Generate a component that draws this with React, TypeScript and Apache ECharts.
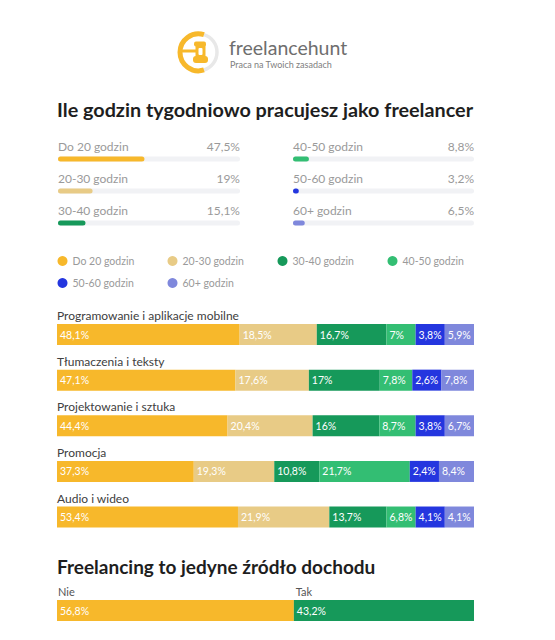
import React, { useEffect, useRef } from "react";
import * as echarts from "echarts";

const hourBands = ["Do 20 godzin", "20-30 godzin", "30-40 godzin", "40-50 godzin", "50-60 godzin", "60+ godzin"];
const overallShares = [47.5, 19, 15.1, 8.8, 3.2, 6.5];
const bandColors = ["#F7B82B", "#E8CB86", "#16995A", "#33BE73", "#2436DF", "#7F88DC"];

const fields = ["Programowanie i aplikacje mobilne", "Tłumaczenia i teksty", "Projektowanie i sztuka", "Promocja", "Audio i wideo"];
const upTo20 = [48.1, 47.1, 44.4, 37.3, 53.4];
const h20to30 = [18.5, 17.6, 20.4, 19.3, 21.9];
const h30to40 = [16.7, 17, 16, 10.8, 13.7];
const h40to50 = [7, 7.8, 8.7, 21.7, 6.8];
const h50to60 = [3.8, 2.6, 3.8, 2.4, 4.1];
const h60plus = [5.9, 7.8, 6.7, 8.4, 4.1];

const incomeLabels = ["Nie", "Tak"];
const incomeShares = [56.8, 43.2];
const incomeColors = ["#F7B82B", "#16995A"];

const title1 = "Ile godzin tygodniowo pracujesz jako freelancer";
const title2 = "Freelancing to jedyne źródło dochodu";

const FONT = "Lato, 'Open Sans', sans-serif";
const fmt = (v: number) => String(v).replace(".", ",") + "%";

export default function App() {
  const ref = useRef<HTMLDivElement>(null);
  useEffect(() => {
    const chart = echarts.init(ref.current!, null, { renderer: "svg" });

    // layout
    const progCols = [{ x: 58, w: 182 }, { x: 293, w: 181 }];
    const progTop = 143, progPitch = 32;
    const stackLeft = 57, stackWidth = 417, stackTop = 311.7, rowPitch = 45.625;
    const incomeTop = 600, incomeH = 21;
    const MIN_SHOWN = 7;

    const fieldSeries = [upTo20, h20to30, h30to40, h40to50, h50to60, h60plus];
    // displayed widths: small segments get a minimum width, first segment takes the rest (as in the original design)
    const shown = fieldSeries.map(() => [] as number[]);
    fields.forEach((_, r) => {
      let rest = 100;
      for (let j = 1; j < fieldSeries.length; j++) {
        const w = Math.max(fieldSeries[j][r], MIN_SHOWN);
        shown[j][r] = w;
        rest -= w;
      }
      shown[0][r] = rest;
    });

    const graphics: any[] = [];
    // logo
    const lcx = 198.5, lcy = 52.3;
    graphics.push(
      { type: "arc", shape: { cx: lcx, cy: lcy, r: 18.5, startAngle: -Math.PI / 2 + 0.3, endAngle: Math.PI / 2 - 0.3, clockwise: true }, style: { stroke: "#E8E8E8", lineWidth: 3.5, fill: null } },
      { type: "arc", shape: { cx: lcx, cy: lcy, r: 18.5, startAngle: Math.PI / 2 - 0.3, endAngle: Math.PI * 1.5 + 0.3, clockwise: true }, style: { stroke: "#F7B82B", lineWidth: 5, fill: null } },
      { type: "line", shape: { x1: 179, y1: 51, x2: 196, y2: 51 }, style: { stroke: "#F7B82B", lineWidth: 3 } },
      { type: "rect", shape: { x: 194, y: 41.5, width: 12, height: 5, r: 2 }, style: { fill: "#F7B82B" } },
      { type: "rect", shape: { x: 195.5, y: 45, width: 10, height: 12 }, style: { fill: "#F7B82B" } },
      { type: "rect", shape: { x: 198.5, y: 48, width: 4, height: 7, r: 1 }, style: { fill: "#ffffff" } },
      { type: "rect", shape: { x: 193, y: 56, width: 15, height: 7, r: 3 }, style: { fill: "#F7B82B" } },
      { type: "text", x: 229, y: 47, style: { text: "freelancehunt", font: `400 19.5px ${FONT}`, fill: "#6E6E6E", verticalAlign: "middle", align: "left" } },
      { type: "text", x: 230, y: 64.5, style: { text: "Praca na Twoich zasadach", font: `400 9px ${FONT}`, fill: "#808080", verticalAlign: "middle", align: "left" } }
    );
    // titles
    graphics.push(
      { type: "text", x: 57, y: 109, style: { text: title1, font: `700 19.8px ${FONT}`, fill: "#1E1E1E", verticalAlign: "middle", align: "left" } },
      { type: "text", x: 57, y: 566, style: { text: title2, font: `700 19px ${FONT}`, fill: "#1E1E1E", verticalAlign: "middle", align: "left" } }
    );
    // progress labels
    hourBands.forEach((name, i) => {
      const c = progCols[Math.floor(i / 3)];
      const y = progTop + progPitch * (i % 3) + progPitch / 2 - 13;
      graphics.push(
        { type: "text", x: c.x, y, style: { text: name, font: `400 12px ${FONT}`, fill: "#9A9A9A", verticalAlign: "middle", align: "left" } },
        { type: "text", x: c.x + c.w, y, style: { text: fmt(overallShares[i]), font: `400 12px ${FONT}`, fill: "#9A9A9A", verticalAlign: "middle", align: "right" } }
      );
    });
    // field labels
    fields.forEach((f, r) => {
      graphics.push({ type: "text", x: stackLeft, y: stackTop + rowPitch * (r + 0.5) - 19, style: { text: f, font: `400 12px ${FONT}`, fill: "#404040", verticalAlign: "middle", align: "left" } });
    });
    // income labels
    let acc = 0;
    incomeLabels.forEach((l, i) => {
      graphics.push({ type: "text", x: stackLeft + (stackWidth * acc) / 100 + (i === 0 ? 1 : 2), y: 591.5, style: { text: l, font: `400 11px ${FONT}`, fill: "#555555", verticalAlign: "middle", align: "left" } });
      acc += incomeShares[i];
    });

    const hiddenX = (gridIndex: number) => ({ type: "value", gridIndex, min: 0, max: 100, show: false });
    const hiddenY = (gridIndex: number, data: string[]) => ({ type: "category", gridIndex, data, inverse: true, show: false });

    const option: any = {
      animation: false,
      backgroundColor: "#ffffff",
      textStyle: { fontFamily: FONT },
      grid: [
        { left: progCols[0].x, width: progCols[0].w, top: progTop, height: progPitch * 3 },
        { left: progCols[1].x, width: progCols[1].w, top: progTop, height: progPitch * 3 },
        { left: stackLeft, width: stackWidth, top: stackTop, height: rowPitch * fields.length },
        { left: stackLeft, width: stackWidth, top: incomeTop, height: incomeH },
      ],
      xAxis: [hiddenX(0), hiddenX(1), hiddenX(2), hiddenX(3)],
      yAxis: [
        hiddenY(0, hourBands.slice(0, 3)),
        hiddenY(1, hourBands.slice(3)),
        hiddenY(2, fields),
        hiddenY(3, ["dochód"]),
      ],
      legend: {
        data: hourBands,
        icon: "circle",
        itemWidth: 10,
        itemHeight: 10,
        itemGap: 6,
        padding: 0,
        left: 57.5,
        top: 253,
        width: 470,
        selectedMode: false,
        textStyle: { color: "#9A9A9A", fontSize: 10.5, fontFamily: FONT, width: 89, lineHeight: 16 },
      },
      series: [
        ...[0, 1].map((g) => ({
          type: "bar",
          name: g === 0 ? "overall-left" : "overall-right",
          xAxisIndex: g,
          yAxisIndex: g,
          barWidth: 5,
          silent: true,
          showBackground: true,
          backgroundStyle: { color: "#F1F2F5", borderRadius: 2.5 },
          itemStyle: { borderRadius: 2.5 },
          data: overallShares.slice(g * 3, g * 3 + 3).map((v, i) => ({ value: v, itemStyle: { color: bandColors[g * 3 + i] } })),
        })),
        ...fieldSeries.map((raw, j) => ({
          type: "bar",
          name: hourBands[j],
          xAxisIndex: 2,
          yAxisIndex: 2,
          stack: "fields",
          barWidth: 21,
          silent: true,
          itemStyle: { color: bandColors[j] },
          label: {
            show: true,
            position: "insideLeft",
            distance: 3,
            color: "#ffffff",
            fontSize: 10.5,
            fontFamily: FONT,
            formatter: (p: any) => fmt(raw[p.dataIndex]),
          },
          data: shown[j],
        })),
        ...incomeShares.map((v, i) => ({
          type: "bar",
          name: incomeLabels[i],
          xAxisIndex: 3,
          yAxisIndex: 3,
          stack: "income",
          barWidth: incomeH,
          silent: true,
          itemStyle: { color: incomeColors[i] },
          label: { show: true, position: "insideLeft", distance: 3, color: "#ffffff", fontSize: 10.5, fontFamily: FONT, formatter: () => fmt(v) },
          data: [v],
        })),
      ],
      graphic: graphics,
    };
    chart.setOption(option);
    return () => chart.dispose();
  }, []);
  return <div ref={ref} style={{ position: "fixed", left: 0, top: 0, width: 555, height: 640, background: "#fff" }} />;
}
